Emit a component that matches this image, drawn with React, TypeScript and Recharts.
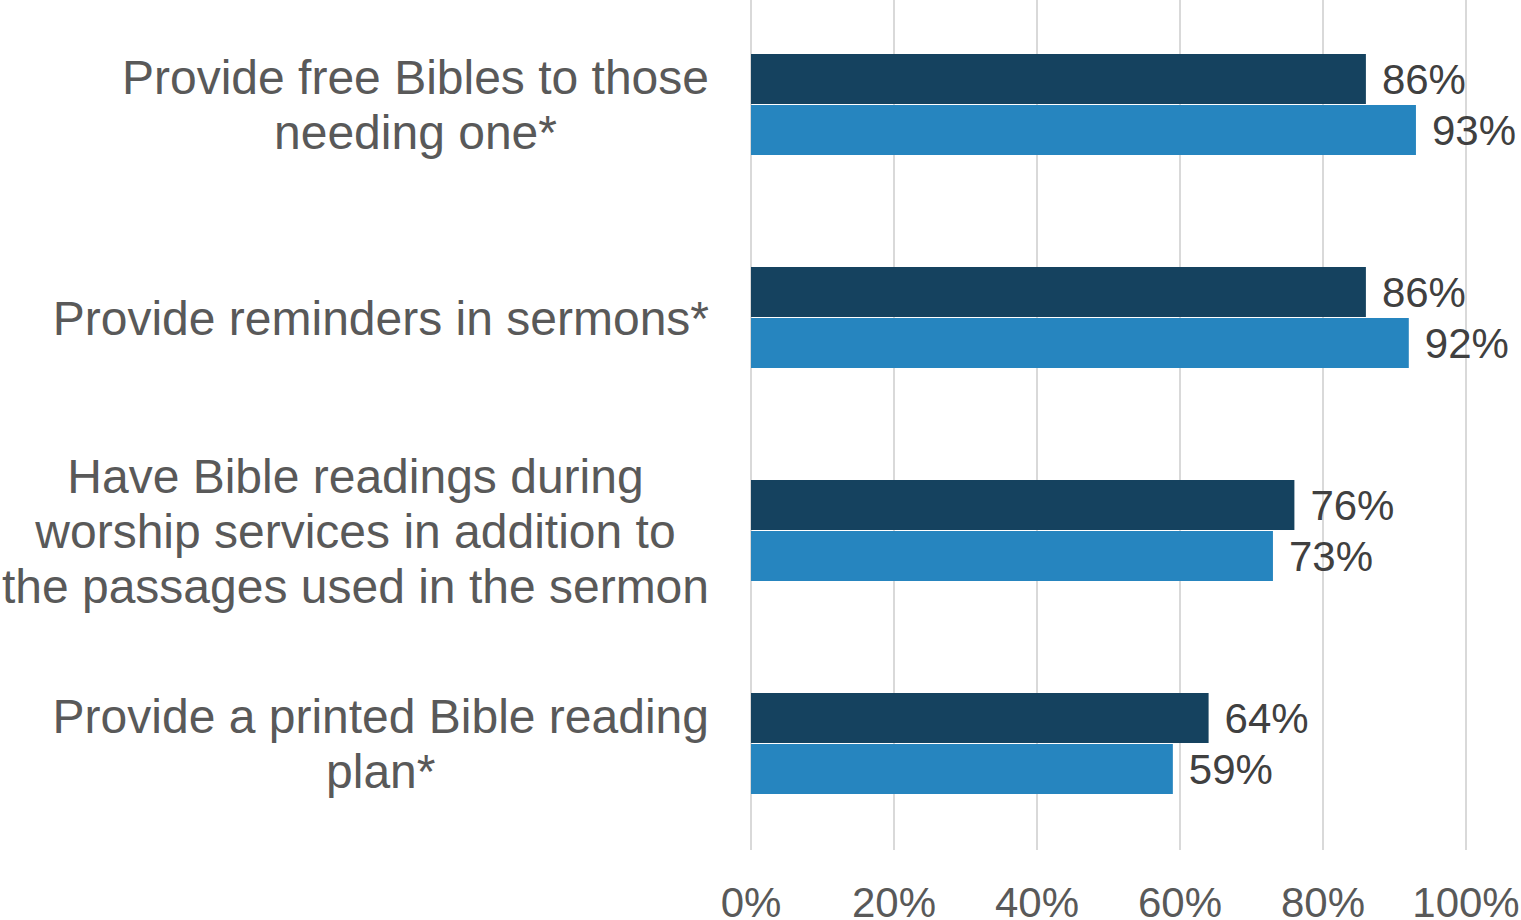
import React from "react";
import { BarChart, Bar, XAxis, YAxis, CartesianGrid, LabelList } from "recharts";

const categories: string[][] = [
  ["Provide free Bibles to those", "needing one*"],
  ["Provide reminders in sermons*"],
  ["Have Bible readings during", "worship services in addition to", "the passages used in the sermon"],
  ["Provide a printed Bible reading", "plan*"],
];
const seriesA: number[] = [86, 86, 76, 64];
const seriesB: number[] = [93, 92, 73, 59];
const xTicks: number[] = [0, 20, 40, 60, 80, 100];

const data = categories.map((c, i) => ({ name: c.join("\n"), a: seriesA[i], b: seriesB[i] }));

const FONT = "'Liberation Sans', Arial, sans-serif";

let ctx: CanvasRenderingContext2D | null = null;
function measure(t: string, size: number) {
  if (!ctx) ctx = document.createElement("canvas").getContext("2d");
  if (!ctx) return t.length * size * 0.5;
  ctx.font = `${size}px 'Liberation Sans'`;
  return ctx.measureText(t).width;
}

const YTick = (props: any) => {
  const { x, y, payload } = props;
  const lines: string[] = String(payload.value).split("\n");
  const size = 48;
  const lh = 55;
  const maxW = Math.max(...lines.map((l) => measure(l, size)));
  const right = x - 42;
  const cx = right - maxW / 2;
  const start = y - ((lines.length - 1) * lh) / 2;
  return (
    <g>
      {lines.map((l, i) => (
        <text key={i} x={cx} y={start + i * lh + 17} textAnchor="middle" fill="#595959" fontSize={size} fontFamily={FONT}>
          {l}
        </text>
      ))}
    </g>
  );
};

const XTick = (props: any) => {
  const { x, y, payload } = props;
  return (
    <text x={x} y={y + 67} textAnchor="middle" fill="#595959" fontSize={42} fontFamily={FONT}>
      {payload.value}%
    </text>
  );
};

export default function App() {
  return (
    <div style={{ position: "absolute", left: 0, top: 0, width: 1521, height: 920, background: "#fff" }}>
      <BarChart
        width={1521}
        height={920}
        data={data}
        layout="vertical"
        margin={{ top: -2, right: 55, bottom: 0, left: 0 }}
        barGap={1}
        barCategoryGap={56}
      >
        <CartesianGrid horizontal={false} stroke="#d9d9d9" strokeWidth={2} />
        <XAxis
          type="number"
          domain={[0, 100]}
          ticks={xTicks}
          axisLine={false}
          tickLine={false}
          tickSize={0}
          tickMargin={0}
          height={70}
          tick={<XTick />}
          interval={0}
        />
        <YAxis
          type="category"
          dataKey="name"
          width={751}
          axisLine={false}
          tickLine={false}
          tickSize={0}
          tickMargin={0}
          tick={<YTick />}
          interval={0}
        />
        <Bar dataKey="a" fill="#15425F" barSize={50} isAnimationActive={false}>
          <LabelList dataKey="a" position="right" offset={16} formatter={(v: any) => `${v}%`} fill="#404040" fontSize={42} fontFamily={FONT} />
        </Bar>
        <Bar dataKey="b" fill="#2685BF" barSize={50} isAnimationActive={false}>
          <LabelList dataKey="b" position="right" offset={16} formatter={(v: any) => `${v}%`} fill="#404040" fontSize={42} fontFamily={FONT} />
        </Bar>
      </BarChart>
    </div>
  );
}
